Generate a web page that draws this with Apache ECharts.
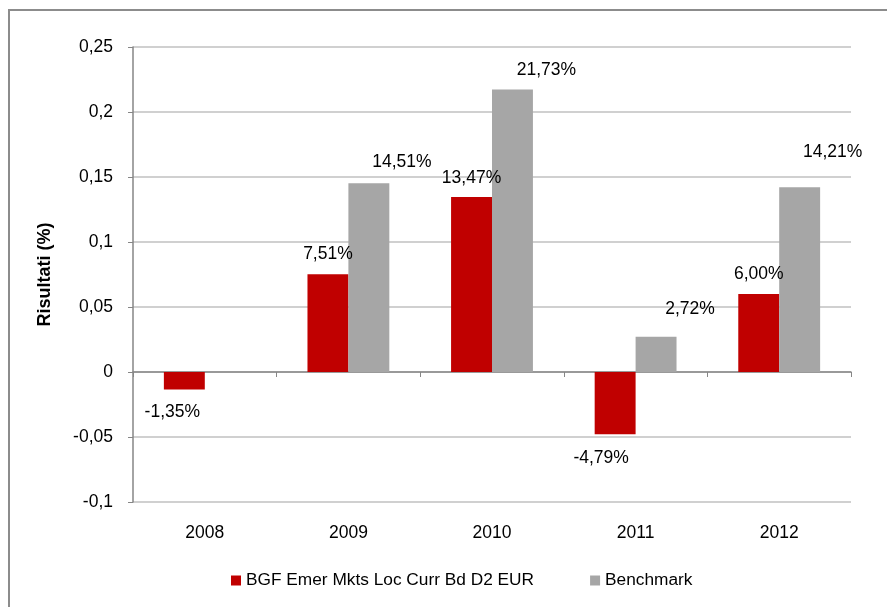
<!DOCTYPE html>
<html>
<head>
<meta charset="utf-8">
<script src="https://cdn.jsdelivr.net/npm/echarts@6/dist/echarts.min.js"></script>
<style>
  html, body { margin: 0; padding: 0; background: #fff; }
  #chart { width: 887px; height: 607px; }
</style>
</head>
<body>
<div id="chart"></div>
<script>
// dati
const anni = ['2008', '2009', '2010', '2011', '2012']
const fondo = [-0.0135, 0.0751, 0.1347, -0.0479, 0.06]
const benchmark = [null, 0.1451, 0.2173, 0.0272, 0.1421]
const nomiSerie = ['BGF Emer Mkts Loc Curr Bd D2 EUR', 'Benchmark']

// spostamenti delle etichette (stile Excel)
const offsetFondo = [[-12, 14], [0, -11], [0, -10], [-14, 15], [0, -11]]
const offsetBench = [[0, 0], [33, -12], [34, -10], [34, -18], [33, -26]]

const FONT = 'Liberation Sans, Arial, sans-serif'
const fmtPerc = v => (v * 100).toFixed(2).replace('.', ',') + '%'

const buildData = (values, offsets) => values.map((v, i) => {
  if (v === null) return null
  return {
    value: v,
    label: {
      position: v < 0 ? 'bottom' : 'top',
      offset: offsets[i]
    }
  }
})

const labelStyle = {
  show: true,
  distance: 0,
  color: '#000',
  fontFamily: FONT,
  fontSize: 17.5,
  lineHeight: 18,
  formatter: p => fmtPerc(p.value)
}

const myChart = echarts.init(document.getElementById('chart'))

const option = {
  animation: false,
  backgroundColor: '#fff',
  graphic: [{
    type: 'rect',
    shape: { x: 9, y: 10, width: 1000, height: 1000 },
    style: { fill: 'none', stroke: '#8c8c8c', lineWidth: 2 },
    silent: true
  }],
  grid: { left: 133, right: 36, top: 47, bottom: 105 },
  legend: {
    left: 231,
    top: 572,
    padding: 0,
    itemWidth: 10,
    itemHeight: 10,
    itemGap: 56,
    icon: 'rect',
    textStyle: { fontFamily: FONT, fontSize: 17.3, color: '#000' },
    data: nomiSerie
  },
  xAxis: [
    {
      type: 'category',
      data: anni,
      position: 'bottom',
      axisLine: { show: false, onZero: false },
      axisTick: { show: false },
      axisLabel: { margin: 22, color: '#000', fontFamily: FONT, fontSize: 17.5 }
    },
    {
      type: 'category',
      data: anni,
      position: 'bottom',
      axisLine: { show: true, onZero: true, lineStyle: { color: '#868686', width: 1.5 } },
      axisTick: { show: true, length: 5, lineStyle: { color: '#868686' } },
      axisLabel: { show: false }
    }
  ],
  yAxis: {
    type: 'value',
    min: -0.1,
    max: 0.25,
    interval: 0.05,
    name: 'Risultati (%)',
    nameLocation: 'middle',
    nameGap: 79,
    nameTextStyle: { fontFamily: FONT, fontSize: 18, fontWeight: 'bold', color: '#000' },
    axisLine: { show: true, lineStyle: { color: '#868686', width: 1.5 } },
    axisTick: { show: true, length: 5, lineStyle: { color: '#868686' } },
    axisLabel: {
      margin: 20,
      color: '#000',
      fontFamily: FONT,
      fontSize: 17.5,
      formatter: v => String(parseFloat(v.toFixed(2))).replace('.', ',')
    },
    splitLine: { show: true, lineStyle: { color: '#c0c0c0', width: 1.5 } }
  },
  series: [
    {
      name: nomiSerie[0],
      type: 'bar',
      data: buildData(fondo, offsetFondo),
      barGap: 0,
      barCategoryGap: '43%',
      itemStyle: { color: '#c00000' },
      label: labelStyle
    },
    {
      name: nomiSerie[1],
      type: 'bar',
      data: buildData(benchmark, offsetBench),
      barGap: 0,
      barCategoryGap: '43%',
      itemStyle: { color: '#a6a6a6' },
      label: labelStyle
    }
  ]
}

myChart.setOption(option)
window.addEventListener('resize', () => myChart.resize())
</script>
</body>
</html>
